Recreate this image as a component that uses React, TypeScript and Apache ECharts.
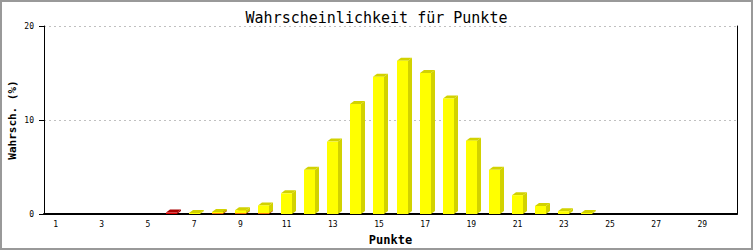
import React, { useEffect, useRef } from "react";
import * as echarts from "echarts";

const categories: string[] = Array.from({ length: 30 }, (_, i) => String(i + 1));
// probability in % per points value (1..30)
const yellowValues: number[] = [
  0, 0, 0, 0, 0, 0, 0.05, 0.15, 0.35, 0.85, 2.2, 4.7, 7.7, 11.7, 14.6, 16.3,
  15.0, 12.3, 7.8, 4.7, 2.0, 0.85, 0.3, 0.08, 0, 0, 0, 0, 0, 0,
];
const redValues: number[] = [
  0, 0, 0, 0, 0, 0.15, 0, 0.06, 0.06, 0.06, 0, 0, 0, 0, 0, 0,
  0, 0, 0, 0, 0, 0, 0, 0, 0, 0, 0, 0, 0, 0,
];
const yTicks: number[] = [0, 10, 20];

const MONO = "'DejaVu Sans Mono', monospace";

function make3D(front: string, shade: string) {
  return (params: any, api: any) => {
    const xi = api.value(0);
    const top = api.value(1);
    const base = api.value(2);
    if (!(top > base)) return null;
    const pTop = api.coord([xi, top]);
    const pBase = api.coord([xi, base]);
    const half = 5.5;
    const dx = 4;
    const dy = 3;
    const x0 = Math.round(pTop[0] - half);
    const x1 = x0 + 11;
    const yT = Math.min(pTop[1], pBase[1] - 1);
    const yB = pBase[1];
    return {
      type: "group",
      children: [
        {
          type: "polygon",
          shape: { points: [[x1, yT], [x1 + dx, yT - dy], [x1 + dx, yB - dy], [x1, yB]] },
          style: { fill: shade, stroke: null },
        },
        {
          type: "polygon",
          shape: { points: [[x0, yT], [x0 + dx, yT - dy], [x1 + dx, yT - dy], [x1, yT]] },
          style: { fill: shade, stroke: null },
        },
        {
          type: "rect",
          shape: { x: x0, y: yT, width: x1 - x0, height: yB - yT },
          style: { fill: front, stroke: null },
        },
      ],
    };
  };
}

export default function App() {
  const ref = useRef<HTMLDivElement>(null);
  useEffect(() => {
    document.body.style.margin = "0";
    const chart = echarts.init(ref.current!, null, { renderer: "svg" });
    const redData = categories.map((_, i) => [i, redValues[i], 0]);
    const yellowData = categories.map((_, i) => [i, redValues[i] + yellowValues[i], redValues[i]]);
    chart.setOption({
      animation: false,
      backgroundColor: "#ffffff",
      title: {
        text: "Wahrscheinlichkeit für Punkte",
        left: "center",
        top: 5,
        textStyle: { fontFamily: MONO, fontSize: 15, fontWeight: "normal", color: "#000" },
      },
      graphic: [
        {
          type: "rect",
          shape: { x: 1, y: 1, width: 751, height: 248 },
          style: { fill: null, stroke: "#999999", lineWidth: 2 },
          silent: true,
        },
      ],
      grid: { left: 44, right: 16, top: 26, bottom: 36, outerBoundsMode: "none", containLabel: false },
      xAxis: {
        type: "category",
        data: categories,
        name: "Punkte",
        nameLocation: "middle",
        nameGap: 20,
        nameMoveOverlap: false,
        nameTextStyle: { fontFamily: MONO, fontSize: 12, fontWeight: "bold", color: "#000" },
        axisLine: { lineStyle: { color: "#000", width: 2 } },
        axisTick: { show: false },
        axisLabel: { interval: 1, fontFamily: MONO, fontSize: 8, color: "#000", margin: 6 },
        splitLine: { show: false },
      },
      yAxis: [
        {
          type: "value",
          min: yTicks[0],
          max: yTicks[yTicks.length - 1],
          interval: 10,
          name: "Wahrsch. (%)",
          nameLocation: "middle",
          nameGap: 26,
          nameRotate: 90,
          nameMoveOverlap: false,
          nameTextStyle: { fontFamily: MONO, fontSize: 11, fontWeight: "bold", color: "#000" },
          axisLine: { show: true, lineStyle: { color: "#000", width: 1 } },
          axisTick: { show: true, inside: false, length: 5, lineStyle: { color: "#000" } },
          axisLabel: { fontFamily: MONO, fontSize: 8, color: "#000", margin: 10 },
          splitLine: { show: true, lineStyle: { color: "#c0c0c0", type: [2, 3], width: 1 } },
        },
        {
          type: "value",
          min: yTicks[0],
          max: yTicks[yTicks.length - 1],
          interval: 10,
          position: "right",
          axisLine: { show: true, lineStyle: { color: "#000", width: 1 } },
          axisTick: { show: false },
          axisLabel: { show: false },
          splitLine: { show: false },
        },
      ],
      series: [
        {
          type: "custom",
          renderItem: make3D("#dd0000", "#aa0000"),
          data: redData,
          encode: { x: 0, y: 1 },
          z: 3,
        },
        {
          type: "custom",
          renderItem: make3D("#ffff00", "#d2d200"),
          data: yellowData,
          encode: { x: 0, y: 1 },
          z: 4,
        },
      ],
    });
    return () => chart.dispose();
  }, []);
  return <div ref={ref} style={{ width: 753, height: 250 }} />;
}
